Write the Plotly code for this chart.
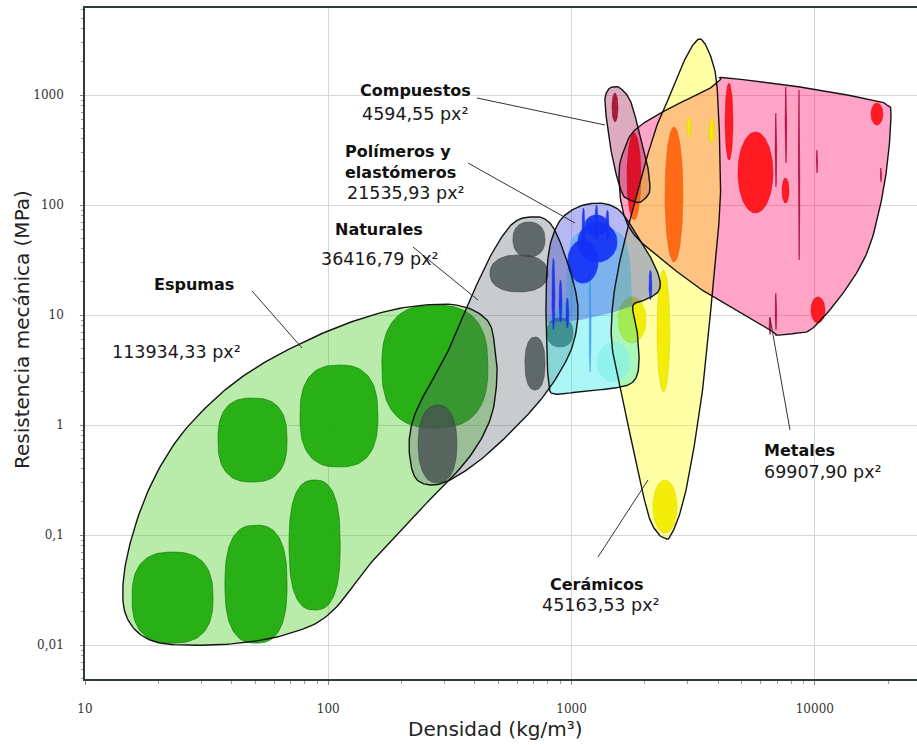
import numpy as np
import plotly.graph_objects as go

# ---------------------------------------------------------------
# Envelopes: vertices as (density kg/m3, strength MPa)
# ---------------------------------------------------------------
espumas_env = [(338, 12.3), (449, 9.0), (484, 5.1), (493, 2.56), (462, 1.11), (372, 0.48),
               (245, 0.18), (153, 0.059), (102, 0.0195), (70, 0.0128), (43, 0.0104),
               (25.3, 0.0100), (18.5, 0.0111), (15.3, 0.0158), (14.3, 0.0273), (15.0, 0.069),
               (18.0, 0.24), (23.9, 0.73), (34.9, 1.8), (51, 3.37), (82, 5.9), (131, 9.0),
               (211, 11.8)]

naturales_env = [(675, 77.8), (763, 76.2), (839, 63), (914, 41.5), (1004, 22.2), (1062, 11.8),
                 (1033, 6.3), (940, 3.66), (763, 1.80), (574, 0.90), (421, 0.48), (316, 0.316),
                 (262, 0.285), (227, 0.337), (215, 0.593), (221, 1.04), (245, 1.80), (308, 4.52),
                 (382, 13.7), (462, 33.7), (542, 59.3), (602, 73.1)]

metales_env = [(4074, 1368), (4355, 1429), (8690, 1183), (17330, 901), (19780, 811),
               (20560, 686), (19950, 256), (18530, 95.9), (16370, 36.6), (13060, 15.8),
               (9820, 7.62), (8440, 6.86), (6980, 6.58), (6540, 7.31), (3603, 15.8),
               (2307, 33.0), (1786, 55.7), (1611, 95.9), (1567, 195), (1626, 297),
               (1822, 481), (2537, 762), (3603, 1112)]

compuestos_env = [(1479, 1183), (1581, 1159), (1738, 901), (1875, 512), (2042, 241),
                  (2101, 146), (2061, 123), (1910, 106), (1738, 111), (1611, 129),
                  (1479, 256), (1399, 557), (1371, 901), (1412, 1112)]

ceramicos_env = [(3436, 3162), (3776, 2080), (3963, 1183), (4074, 297), (4074, 95.9),
                 (3811, 18.0), (3467, 2.22), (3069, 0.39), (2790, 0.158), (2537, 0.096),
                 (2421, 0.094), (2266, 0.104), (2042, 0.169), (1690, 1.11), (1479, 4.52),
                 (1466, 10.4), (1552, 25.6), (1738, 73.1), (2161, 415), (2489, 901),
                 (2790, 1687), (3155, 2851)]

# polymers + elastomers share one outline; the two sub-regions are filled separately
polimeros_contorno = [(800, 33), (839, 53.3), (914, 76.2), (1062, 95.9), (1248, 104),
                      (1439, 100), (1611, 84.6), (1858, 53.3), (2140, 31.6), (2307, 20.8),
                      (2266, 16.2), (2004, 13.7), (1786, 12.1), (1858, 7.31), (1892, 3.51),
                      (1786, 2.46), (1507, 2.17), (1135, 2.04), (855, 1.91), (807, 2.31),
                      (792, 4.81), (785, 13.7)]
polimeros_env = [(800, 33), (839, 53.3), (914, 76.2), (1062, 95.9), (1248, 104), (1439, 100),
                 (1611, 84.6), (1858, 53.3), (2140, 31.6), (2307, 20.8), (2266, 16.2),
                 (2004, 13.7), (1786, 12.1), (1439, 10.4), (1083, 9.0), (896, 8.83),
                 (792, 8.63), (785, 13.7)]
elastomeros_env = [(1033, 53.3), (1309, 61.8), (1611, 53.3), (1738, 31.6), (1771, 13.7),
                   (1858, 7.31), (1892, 3.51), (1786, 2.46), (1507, 2.17), (1135, 2.04),
                   (855, 1.91), (807, 2.31), (792, 4.81), (800, 9.0), (940, 13.7),
                   (957, 31.6)]

# ---------------------------------------------------------------
# Material bubbles: [density min, density max, strength min, strength max]
# ---------------------------------------------------------------
espumas_burbujas = [[15.6, 33.6, 0.0104, 0.070], [37.6, 67.7, 0.0104, 0.123],
                    [69, 112, 0.0208, 0.316], [35.2, 67.7, 0.303, 1.76],
                    [76.5, 160, 0.415, 3.51], [166, 453, 0.94, 12.3]]

naturales_burbujas = [[574, 778, 33.7, 70.1], [462, 800, 16.2, 35.2], [643, 778, 2.08, 6.31],
                      [234, 338, 0.297, 1.52], [792, 1014, 5.12, 9.4]]

metales_burbujas = [[4831, 6730, 84.6, 461], [4276, 4607, 256, 1285], [7330, 7830, 104, 176],
                    [17020, 19050, 534, 846], [9640, 11010, 8.46, 14.6],
                    [1690, 1928, 73.1, 452], [2421, 2871, 30.3, 512]]
metales_trazos = [[7550, 7660, 241, 1183], [8560, 8670, 31.6, 1112], [6870, 6970, 146, 686],
                  [10150, 10260, 195, 316], [18600, 18800, 162, 217], [6870, 6970, 7.31, 15.8],
                  [6490, 6590, 6.6, 9.6]]

compuestos_burbujas = [[1466, 1552, 569, 1042]]

ceramicos_burbujas = [[2244, 2537, 2.0, 25.6], [2161, 2710, 0.104, 0.316],
                      [2979, 3097, 415, 631], [3672, 3846, 366, 605],
                      [1552, 2023, 5.57, 14.6]]

polimeros_burbujas = [[1062, 1538, 30.3, 70.1], [966, 1285, 19.5, 48.1],
                      [1135, 1412, 53.3, 81.1]]
polimeros_trazos = [[1104, 1135, 39, 94], [1248, 1285, 48, 100], [1384, 1425, 48, 90],
                    [830, 855, 7.3, 33], [888, 914, 8.6, 20.8], [948, 975, 7.6, 14.3],
                    [2080, 2140, 13.7, 25.6]]

elastomeros_burbujas = [[1271, 1738, 2.46, 5.69]]
elastomeros_trazos = [[1180, 1203, 3.03, 26.7]]

# Family labels: (name, area text)
etiquetas = {
    "espumas": ("Espumas", "113934,33 px²"),
    "naturales": ("Naturales", "36416,79 px²"),
    "polimeros": ("Polímeros y<br>elastómeros", "21535,93 px²"),
    "compuestos": ("Compuestos", "4594,55 px²"),
    "ceramicos": ("Cerámicos", "45163,53 px²"),
    "metales": ("Metales", "69907,90 px²"),
}

x_ticks = [10, 100, 1000, 10000]
x_ticktext = ["10", "100", "1000", "10000"]
y_ticks = [0.01, 0.1, 1, 10, 100, 1000]
y_ticktext = ["0,01", "0,1", "1", "10", "100", "1000"]

# minor ticks at 2..9 of every decade
x_minor = [k * 10 ** e for e in range(1, 5) for k in range(2, 10)]
y_minor = [k * 10.0 ** e for e in range(-3, 4) for k in range(2, 10)]

# ---------------------------------------------------------------
# Geometry helpers (all work in log space)
# ---------------------------------------------------------------
def closed_spline(pts, k=14):
    P = np.log10(np.array(pts, dtype=float))
    n = len(P)
    out = []
    for i in range(n):
        p0, p1, p2, p3 = P[i - 1], P[i], P[(i + 1) % n], P[(i + 2) % n]
        for t in np.linspace(0, 1, k, endpoint=False):
            t2, t3 = t * t, t * t * t
            out.append(0.5 * (2 * p1 + (-p0 + p2) * t + (2 * p0 - 5 * p1 + 4 * p2 - p3) * t2
                              + (-p0 + 3 * p1 - 3 * p2 + p3) * t3))
    out.append(out[0])
    a = np.array(out)
    return 10 ** a[:, 0], 10 ** a[:, 1]


def bubble(r0, r1, s0, s1, p=2.0, n=90):
    lx0, lx1, ly0, ly1 = np.log10([r0, r1, s0, s1])
    cx, ax = (lx0 + lx1) / 2, (lx1 - lx0) / 2
    cy, ay = (ly0 + ly1) / 2, (ly1 - ly0) / 2
    t = np.linspace(0, 2 * np.pi, n)
    c, s = np.cos(t), np.sin(t)
    x = cx + ax * np.sign(c) * np.abs(c) ** (2 / p)
    y = cy + ay * np.sign(s) * np.abs(s) ** (2 / p)
    return 10 ** x, 10 ** y


fig = go.Figure()


def add_fill(pts, color):
    x, y = closed_spline(pts)
    fig.add_trace(go.Scatter(x=x, y=y, mode="lines", fill="toself", fillcolor=color,
                             line=dict(width=0, color=color), hoverinfo="skip",
                             showlegend=False))


def add_bubbles(boxes, color, edge, p=2.0, lw=0.8):
    for b in boxes:
        x, y = bubble(*b, p=p)
        fig.add_trace(go.Scatter(x=x, y=y, mode="lines", fill="toself", fillcolor=color,
                                 line=dict(width=lw, color=edge), hoverinfo="skip",
                                 showlegend=False))


def add_outline(pts):
    x, y = closed_spline(pts)
    fig.add_trace(go.Scatter(x=x, y=y, mode="lines",
                             line=dict(width=1.4, color="rgba(10,10,10,0.95)"),
                             hoverinfo="skip", showlegend=False))


# Foams
add_fill(espumas_env, "rgba(60,200,20,0.36)")
add_bubbles(espumas_burbujas, "rgba(25,170,5,0.9)", "rgba(10,110,0,0.7)", p=2.6)
# Natural materials
add_fill(naturales_env, "rgba(90,100,105,0.33)")
add_bubbles(naturales_burbujas, "rgba(70,80,80,0.8)", "rgba(50,60,60,0.6)", p=2.3)
# Metals
add_fill(metales_env, "rgba(255,0,100,0.36)")
add_bubbles(metales_burbujas, "rgba(255,15,20,0.92)", "rgba(200,0,20,0.6)")
add_bubbles(metales_trazos, "rgba(160,0,45,0.9)", "rgba(160,0,45,0.9)", lw=0.6)
# Composites
add_fill(compuestos_env, "rgba(150,0,60,0.33)")
add_bubbles(compuestos_burbujas, "rgba(165,15,45,0.92)", "rgba(130,0,30,0.6)")
# Ceramics
add_fill(ceramicos_env, "rgba(255,255,0,0.35)")
add_bubbles(ceramicos_burbujas, "rgba(242,236,0,0.95)", "rgba(220,210,0,0.6)")
# Elastomers and polymers
add_fill(elastomeros_env, "rgba(0,230,230,0.33)")
add_fill(polimeros_env, "rgba(30,40,220,0.33)")
add_bubbles(elastomeros_burbujas, "rgba(130,240,235,0.65)", "rgba(130,240,235,0.3)")
add_bubbles(elastomeros_trazos, "rgba(60,150,240,0.8)", "rgba(60,150,240,0.8)", lw=0.5)
add_bubbles(polimeros_burbujas, "rgba(20,50,245,0.92)", "rgba(20,50,245,0.92)")
add_bubbles(polimeros_trazos, "rgba(20,50,235,0.9)", "rgba(20,50,235,0.9)", lw=0.5)

# Envelope outlines on top of everything
for env in (espumas_env, naturales_env, metales_env, compuestos_env, ceramicos_env,
            polimeros_contorno):
    add_outline(env)

# ---------------------------------------------------------------
# Labels and leader lines (positions in pixels of the 917x745 canvas)
# ---------------------------------------------------------------
L, R, T, B = 85, 917, 8, 679


def px(xp):
    return (xp - L) / (R - L)


def py(yp):
    return (B - yp) / (B - T)


label_layout = {
    "espumas": dict(name=(152, 284), area=(110, 352), leader=((252, 291), (302, 348))),
    "naturales": dict(name=(333, 230), area=(319, 259), leader=((413, 247), (478, 300))),
    "polimeros": dict(name=(343, 162), area=(345, 193), leader=((468, 163), (575, 223))),
    "compuestos": dict(name=(358, 91), area=(360, 114), leader=((477, 98), (605, 125))),
    "ceramicos": dict(name=(548, 584), area=(540, 605), leader=((598, 557), (648, 480))),
    "metales": dict(name=(762, 450), area=(762, 472), leader=((790, 430), (770, 318))),
}

annotations = []
shapes = []
for key, (name, area) in etiquetas.items():
    lay = label_layout[key]
    annotations.append(dict(text="<b>" + name + "</b>", x=px(lay["name"][0]), y=py(lay["name"][1]),
                            xref="paper", yref="paper", xanchor="left", yanchor="middle",
                            align="left", showarrow=False,
                            font=dict(family="DejaVu Sans", size=16, color="#111111")))
    annotations.append(dict(text=area, x=px(lay["area"][0]), y=py(lay["area"][1]),
                            xref="paper", yref="paper", xanchor="left", yanchor="middle",
                            showarrow=False,
                            font=dict(family="DejaVu Sans", size=17.5, color="#1a1a1a")))
    (x0, y0), (x1, y1) = lay["leader"]
    shapes.append(dict(type="line", xref="paper", yref="paper", x0=px(x0), y0=py(y0),
                       x1=px(x1), y1=py(y1), line=dict(color="#333333", width=1)))

# axis titles
annotations.append(dict(text="Densidad (kg/m³)", x=px(495), y=py(729), xref="paper",
                        yref="paper", xanchor="center", yanchor="middle", showarrow=False,
                        font=dict(family="DejaVu Sans", size=20, color="#222222")))
annotations.append(dict(text="Resistencia mecánica (MPa)", x=px(22), y=py(330), xref="paper",
                        yref="paper", xanchor="center", yanchor="middle", showarrow=False,
                        textangle=-90,
                        font=dict(family="DejaVu Sans", size=20, color="#222222")))

axis_line = "#2e3d36"
tick_font = dict(family="DejaVu Serif", size=12, color="#333333")

fig.update_layout(
    width=917, height=745,
    margin=dict(l=L, r=917 - R, t=T, b=745 - B),
    paper_bgcolor="white", plot_bgcolor="white",
    showlegend=False,
    annotations=annotations,
    shapes=shapes,
    xaxis=dict(type="log", range=[1.0, 4.42], tickmode="array", tickvals=x_ticks,
               ticktext=x_ticktext,
               showgrid=True, gridcolor="#d6d6d6", gridwidth=1.3,
               showline=True, linecolor=axis_line, linewidth=1.6, mirror=True,
               ticks="outside", ticklen=4, tickcolor="#888888",
               minor=dict(tickmode="array", tickvals=x_minor, ticks="outside", ticklen=3,
                          tickcolor="#999999", showgrid=False),
               tickfont=tick_font, ticklabelstandoff=14, zeroline=False, fixedrange=True),
    yaxis=dict(type="log", range=[-2.309, 3.791], tickmode="array", tickvals=y_ticks,
               ticktext=y_ticktext,
               showgrid=True, gridcolor="#d6d6d6", gridwidth=1.3,
               showline=True, linecolor=axis_line, linewidth=1.6,
               ticks="outside", ticklen=3, tickcolor="#888888",
               minor=dict(tickmode="array", tickvals=y_minor, ticks="outside", ticklen=2,
                          tickcolor="#999999", showgrid=False),
               tickfont=tick_font, ticklabelstandoff=14, zeroline=False, fixedrange=True),
)

fig.write_html("out.html")
